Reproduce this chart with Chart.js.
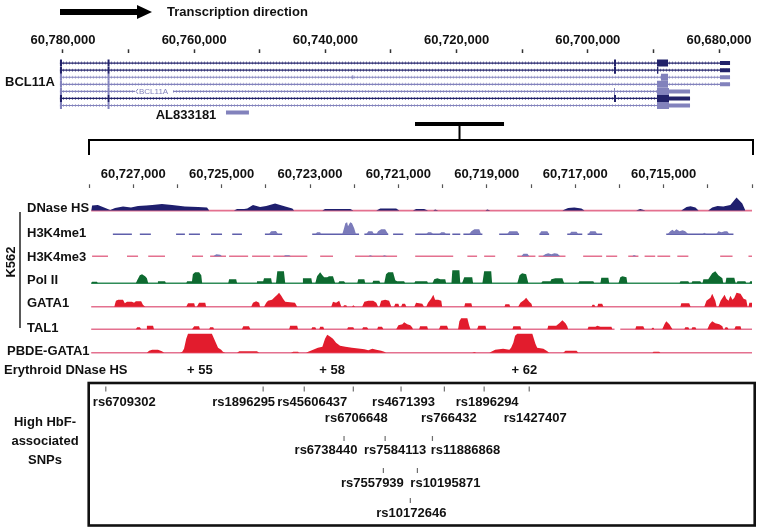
<!DOCTYPE html>
<html>
<head>
<meta charset="utf-8">
<script src="https://cdn.jsdelivr.net/npm/chart.js@4.4.1/dist/chart.umd.min.js"></script>
<style>
  html, body { margin:0; padding:0; background:#ffffff; }
  #fig { position:relative; width:760px; height:531px; overflow:hidden; background:#ffffff; }
  #geneCanvas { position:absolute; left:0; top:0; }
  #trackCanvas { position:absolute; left:0; top:120px; }
</style>
</head>
<body>
<div id="fig">
  <canvas id="geneCanvas" width="760" height="128"></canvas>
  <canvas id="trackCanvas" width="760" height="411"></canvas>
</div>
<script>
// ======================= DATA =======================
// --- top panel: BCL11A locus (chr2, bp) ---
const locusTicks = [60780000,60770000,60760000,60750000,60740000,60730000,60720000,60710000,60700000,60690000,60680000];
const locusTickLabels = [60780000,60760000,60740000,60720000,60700000,60680000];
const txStart = [60780460,60780460,60780460,60780460,60780460,60780460,60780460];
const txEnd   = [60678320,60678320,60678320,60678320,60684420,60684420,60684420];
const txDark  = [true,true,false,false,false,true,false];
const txExons = [
  [[60780460,60780150,'c'],[60773200,60772900,'c'],[60696010,60695700,'c'],[60689450,60687770,'c'],[60679850,60678320,'u']],
  [[60780460,60780150,'c'],[60773200,60772900,'c'],[60696010,60695700,'c'],[60689450,60689250,'c'],[60679850,60678320,'u']],
  [[60780460,60780150,'c'],[60773200,60772900,'c'],[60735900,60735750,'u'],[60688840,60687770,'c'],[60679850,60678320,'u']],
  [[60780460,60780150,'c'],[60773200,60772900,'c'],[60689450,60687770,'c'],[60679850,60678320,'u']],
  [[60780460,60780150,'c'],[60773200,60772900,'c'],[60696010,60695850,'c'],[60689450,60687620,'c'],[60687620,60684420,'u']],
  [[60780460,60780150,'c'],[60773200,60772900,'c'],[60696010,60695700,'c'],[60689450,60687620,'c'],[60687620,60684420,'u']],
  [[60780460,60780150,'c'],[60773200,60772900,'c'],[60689450,60687620,'c'],[60687620,60684420,'u']]
];
const txLabelRow = 4;
const txLabelGap = [60769020, 60763230];
const al833181 = [60755150, 60751650];
const zoomedRegion = [60726340, 60712770];

// --- zoomed region ---
const regionTicks = [60728000,60727000,60726000,60725000,60724000,60723000,60722000,60721000,60720000,60719000,60718000,60717000,60716000,60715000,60714000,60713000];
const regionTickLabels = [60727000,60725000,60723000,60721000,60719000,60717000,60715000];
const trackNames = ['DNase HS','H3K4me1','H3K4me3','Pol II','GATA1','TAL1','PBDE-GATA1'];

const dnaseHS = [[60727950,0],[60727930,5],[60727800,5.5],[60727660,3],[60727520,0.5],[60727410,2.5],[60727230,4],[60727050,3],[60726890,4.5],[60726710,5],[60726570,5.5],[60726350,6.5],[60726120,5.5],[60725830,4],[60725530,3.5],[60725330,3],[60725280,0],[60724720,0],[60724650,1.5],[60724490,1.5],[60724420,2],[60724290,5.5],[60724130,3.5],[60723990,4.5],[60723790,7],[60723560,4],[60723400,2],[60723360,0],[60722720,0],[60722660,1.5],[60722090,1.5],[60722020,0],[60721500,0],[60721410,2],[60721050,2],[60720980,0],[60720670,0],[60720600,1.5],[60720420,1.5],[60720330,0],[60720210,0],[60720170,1],[60720100,0],[60719030,0],[60718990,1.2],[60718920,0],[60717290,0],[60717160,2.5],[60717020,3],[60716860,2],[60716790,0],[60715620,0],[60715530,1.5],[60715410,0],[60714600,0],[60714480,3.5],[60714390,4.3],[60714280,3],[60714210,0],[60713990,0],[60713900,3],[60713780,4.5],[60713650,4],[60713490,5.5],[60713350,13],[60713220,7],[60713150,0]];

const h3k4me1 = [[60724020,0],[60723930,0],[60723880,3],[60723770,3.3],[60723720,0],[60722880,0],[60722840,2],[60722770,2],[60722750,0],[60722270,0],[60722230,6],[60722200,11],[60722160,12],[60722140,8],[60722090,12],[60722050,11],[60722000,6],[60721960,0],[60721730,0],[60721680,3],[60721590,3],[60721550,0],[60721500,0],[60721460,3],[60721390,5],[60721300,5],[60721230,0],[60720370,0],[60720330,2],[60720260,2],[60720210,0],[60720080,0],[60720030,2],[60719960,2],[60719920,0],[60719400,0],[60719350,3],[60719280,5],[60719170,5],[60719130,0],[60718540,0],[60718490,3],[60718310,3],[60718270,0],[60717810,0],[60717770,3],[60717630,3],[60717590,0],[60717130,0],[60717090,2.5],[60716970,2.5],[60716930,0],[60716700,0],[60716660,3],[60716540,3],[60716500,0],[60714910,0],[60714850,3],[60714800,4.5],[60714760,3],[60714710,5],[60714640,3],[60714570,4],[60714510,3],[60714440,0],[60714120,0],[60714080,1.5],[60714030,0],[60713810,0],[60713760,3],[60713690,2],[60713620,3],[60713560,3],[60713510,0]];
const h3k4me1Cover = [[60727460,60727030],[60726850,60726600],[60726030,60725830],[60725740,60725490],[60725240,60724990],[60724760,60724540],[60724020,60723630],[60722950,60721890],[60721770,60721230],[60721120,60720890],[60720620,60719830],[60719780,60719600],[60719530,60719100],[60718720,60718270],[60717810,60717590],[60717180,60716840],[60716720,60716390],[60714940,60713420]];

const h3k4me3 = [[60725190,0],[60725120,2],[60725030,1.5],[60724990,0],[60723600,0],[60723560,1],[60723470,1],[60723430,0],[60721680,0],[60721640,1],[60721570,0],[60721360,0],[60721320,1],[60721250,0],[60718220,0],[60718170,2.5],[60718080,2.5],[60718040,0],[60717740,0],[60717680,2],[60717610,3],[60717540,2],[60717470,3],[60717400,2.5],[60717340,0],[60715710,0],[60715670,1.2],[60715610,0]];
const h3k4me3Cover = [[60727930,60727570],[60727140,60726890],[60726660,60726280],[60725670,60725420],[60725260,60724900],[60724830,60724400],[60724310,60723900],[60723830,60723060],[60722770,60722480],[60721980,60721030],[60720620,60719760],[60719440,60719220],[60719060,60718810],[60718310,60717900],[60717830,60717220],[60716820,60716390],[60716300,60716050],[60715800,60715570],[60715430,60715190],[60715140,60714850],[60714690,60714440],[60713720,60713440],[60713080,60713000]];

const polII = [[60727950,0],[60727930,1.5],[60727820,1.5],[60727800,0],[60726940,0],[60726910,3],[60726850,8],[60726800,9],[60726730,7],[60726690,5],[60726660,0],[60726460,0],[60726440,2],[60726280,2],[60726260,0],[60725800,0],[60725780,2],[60725670,2],[60725650,9],[60725600,11],[60725510,11],[60725460,8],[60725440,0],[60724850,0],[60724830,4],[60724670,4],[60724650,0],[60724220,0],[60724200,2],[60724060,2],[60724040,5],[60723880,5],[60723860,0],[60723770,0],[60723740,12],[60723590,12],[60723560,0],[60723180,0],[60723160,5],[60722970,5],[60722950,0],[60722880,0],[60722840,7],[60722770,11],[60722720,8],[60722680,6],[60722610,6],[60722570,7],[60722480,7],[60722430,0],[60722360,0],[60722340,2],[60722230,2],[60722200,0],[60721930,0],[60721910,4],[60721770,4],[60721750,0],[60721590,0],[60721570,2.5],[60721430,2.5],[60721410,0],[60721320,0],[60721280,9],[60721230,11],[60721120,11],[60721070,3],[60721030,2],[60720870,2],[60720850,0],[60720640,0],[60720620,2],[60720350,2],[60720330,0],[60720230,0],[60720190,4],[60720120,5],[60720050,4],[60719940,4],[60719920,0],[60719800,0],[60719780,13],[60719620,13],[60719600,0],[60719560,0],[60719510,6],[60719330,6],[60719310,0],[60719100,0],[60719060,12],[60718900,12],[60718880,0],[60718310,0],[60718260,8],[60718200,10],[60718110,9],[60718060,0],[60717770,0],[60717740,2],[60717560,2],[60717540,4],[60717450,5],[60717290,5],[60717250,0],[60716930,0],[60716910,2],[60716590,2],[60716570,0],[60716430,0],[60716410,5.5],[60716250,5.5],[60716230,0],[60716020,0],[60715980,6],[60715930,7],[60715840,6],[60715820,0],[60714640,0],[60714620,2],[60714440,2],[60714420,0],[60714370,0],[60714350,2],[60714170,2],[60714140,0],[60714120,0],[60714100,4],[60713990,4],[60713900,10],[60713830,12],[60713760,8],[60713670,5],[60713650,0],[60713600,0],[60713580,5.5],[60713400,5.5],[60713370,0],[60713350,0],[60713330,2],[60713150,2],[60713130,0],[60713060,0],[60713040,2],[60713000,2]];

const gata1 = [[60727430,0],[60727390,6],[60727340,7],[60727230,7],[60727190,3.5],[60727140,5],[60727030,5],[60726980,4],[60726940,5.5],[60726820,5.5],[60726780,2],[60726730,0],[60725800,0],[60725760,3.5],[60725620,3.5],[60725600,0],[60725560,0],[60725510,4],[60725370,4],[60725350,0],[60724330,0],[60724290,4],[60724220,5.5],[60724150,4],[60724130,0],[60724040,0],[60723990,4],[60723950,6],[60723860,7],[60723790,10],[60723740,12],[60723700,14],[60723650,11],[60723610,8],[60723560,5],[60723450,4.5],[60723340,4],[60723290,0],[60722520,0],[60722480,5],[60722410,4],[60722340,6],[60722290,0],[60722250,0],[60722230,1.5],[60722180,1.5],[60722160,0],[60722050,0],[60722020,1.5],[60721980,0],[60721820,0],[60721770,5],[60721680,6],[60721570,6],[60721500,4],[60721460,0],[60721430,0],[60721390,6],[60721300,7],[60721210,6],[60721160,0],[60721100,0],[60721070,3],[60721000,3],[60720980,0],[60720940,0],[60720910,3],[60720850,3],[60720820,0],[60720640,0],[60720600,4],[60720460,3],[60720420,0],[60720370,0],[60720330,4],[60720260,8],[60720210,12],[60720170,7],[60720100,7],[60720030,6],[60720010,0],[60719510,0],[60719490,3.5],[60719350,3.5],[60719330,0],[60718600,0],[60718580,2.5],[60718490,2.5],[60718470,0],[60718290,0],[60718240,4],[60718150,7],[60718110,9],[60718040,5],[60717990,3],[60717970,0],[60716630,0],[60716610,2],[60716570,2],[60716540,0],[60716500,0],[60716480,3],[60716390,3],[60716360,0],[60714620,0],[60714600,3.5],[60714420,3.5],[60714390,0],[60714080,0],[60714030,6],[60713940,9],[60713900,13],[60713830,6],[60713800,0],[60713760,0],[60713710,6],[60713620,12],[60713580,8],[60713530,6],[60713490,11],[60713440,7],[60713400,9],[60713350,14],[60713260,13],[60713190,8],[60713130,7],[60713100,0],[60713080,0],[60713060,4],[60713000,4]];

const tal1 = [[60726940,0],[60726910,2],[60726850,2],[60726820,0],[60726710,0],[60726690,3.5],[60726550,3.5],[60726530,0],[60725670,0],[60725620,3],[60725510,3],[60725490,0],[60725280,0],[60725260,2],[60725190,2],[60725170,0],[60724540,0],[60724510,3],[60724380,3],[60724350,0],[60723470,0],[60723450,3.5],[60723290,3.5],[60723270,0],[60722970,0],[60722950,2],[60722880,2],[60722860,0],[60722790,0],[60722770,2.5],[60722700,2.5],[60722680,0],[60722160,0],[60722140,2],[60722020,2],[60722000,0],[60721820,0],[60721800,2],[60721710,2],[60721680,0],[60721480,0],[60721460,2.5],[60721370,2.5],[60721340,0],[60721050,0],[60721000,4],[60720910,5],[60720870,7],[60720800,5],[60720730,4],[60720690,2],[60720670,0],[60720530,0],[60720510,3],[60720350,3],[60720330,0],[60720080,0],[60720050,3.5],[60719900,3.5],[60719870,0],[60719650,0],[60719620,8],[60719580,11],[60719440,11],[60719400,4],[60719370,0],[60719220,0],[60719190,3.5],[60719030,3.5],[60719010,0],[60718420,0],[60718400,3],[60718240,3],[60718220,0],[60717630,0],[60717610,3.5],[60717430,3.5],[60717360,6],[60717290,9],[60717220,6],[60717180,3],[60717160,0],[60716720,0],[60716700,2.5],[60716540,2.5],[60716500,3.5],[60716430,2.5],[60716180,2.5],[60716160,0],[60715640,0],[60715620,3],[60715460,3],[60715430,0],[60715280,0],[60715250,1.5],[60715230,1.5],[60715210,0],[60715030,0],[60714980,5],[60714940,8],[60714870,5],[60714800,0],[60714530,0],[60714510,2],[60714440,2],[60714420,0],[60714370,0],[60714350,2],[60714280,2],[60714260,0],[60714010,0],[60713960,5],[60713900,8],[60713830,6],[60713740,5],[60713670,3],[60713650,0],[60713620,0],[60713600,2],[60713560,2],[60713530,0],[60713400,0],[60713370,3],[60713260,3],[60713240,0]];
const tal1Cover = [[60727950,60716110],[60715980,60713000]];

const pbdeGata1 = [[60726690,0],[60726640,2],[60726570,3],[60726440,3],[60726350,1.5],[60726300,0],[60725940,0],[60725890,1],[60725850,4],[60725800,14],[60725760,19],[60725220,19],[60725170,14],[60725120,9],[60725080,5],[60725010,3],[60724970,1],[60724920,0],[60724650,0],[60724600,1.5],[60724200,1.5],[60724150,0],[60723430,0],[60723380,1],[60723270,1],[60723250,0],[60723090,0],[60723040,1],[60722930,3],[60722820,5],[60722720,6],[60722660,14],[60722610,18],[60722540,16],[60722480,14],[60722410,10],[60722320,7],[60722200,6],[60722050,5],[60721860,4],[60721770,3.5],[60721680,2.5],[60721590,4],[60721500,3],[60721390,2],[60721320,1],[60721280,0],[60719330,0],[60719280,0.7],[60719240,0],[60718940,0],[60718900,1],[60718810,3],[60718630,4],[60718490,3],[60718450,5],[60718400,10],[60718360,17],[60718310,19],[60717970,19],[60717900,9],[60717860,5],[60717720,4],[60717630,1.5],[60717590,0],[60717270,0],[60717220,2],[60716970,2],[60716930,0],[60715250,0],[60715230,1],[60715100,1],[60715070,0]];

const fullCover = [[60727950,60713000]];

const hsLabels = ['+ 55','+ 58','+ 62'];
const hsPos    = [60725490, 60722500, 60718150];

const snpNames = ['rs6709302','rs1896295','rs45606437','rs4671393','rs1896294','rs6706648','rs766432','rs1427407','rs6738440','rs7584113','rs11886868','rs7557939','rs10195871','rs10172646'];
const snpPos   = [60727620,60724060,60723130,60720940,60719060,60722020,60719960,60718040,60722230,60721300,60720230,60721340,60720570,60720730];
const snpTier  = [0,0,0,0,0,1,1,1,2,2,2,3,3,4];

// ======================= LAYOUT / STYLE =======================
const FONT = "'Liberation Sans', Arial, Helvetica, sans-serif";
Chart.defaults.font.family = FONT;
Chart.defaults.font.size = 13;
Chart.defaults.font.weight = 'bold';
Chart.defaults.color = '#111111';

const COL_DARK = '#22226a', COL_LIGHT = '#8282bc';
const TEX_DARK = 'rgba(34,34,106,0.55)', TEX_LIGHT = 'rgba(130,130,188,0.55)';
const geneRowY0 = 63.3, geneRowStep = 7.22, alRow = 7;
const TRACK_CANVAS_TOP = 120;
const trackBaseY = [210.6, 234.3, 256.3, 283.3, 306.7, 329.3, 352.7];
const trackLabelY = [208, 233, 257, 280, 303, 328, 351];
const trackLabelX = [27, 27, 27, 27, 27, 27, 7];
const PINK = '#e4718f', RED = '#e21c2d';
const trackStyle = [
  {data: dnaseHS,  cover: fullCover,    fill: '#1f1f6e', line: PINK},
  {data: h3k4me1,  cover: h3k4me1Cover, fill: '#7b7bba', line: '#5f5fab'},
  {data: h3k4me3,  cover: h3k4me3Cover, fill: '#7b7bba', line: PINK},
  {data: polII,    cover: fullCover,    fill: '#0e6a30', line: '#2f8c58'},
  {data: gata1,    cover: fullCover,    fill: RED,       line: PINK},
  {data: tal1,     cover: tal1Cover,    fill: RED,       line: PINK},
  {data: pbdeGata1,cover: fullCover,    fill: RED,       line: PINK}
];
const snpLabelDx = [18.5,-19.5,8,2.5,3,3,4.5,6,-18,10,33,-11,28,1];
const tierLabelY = [402, 418, 450, 483, 513];
const tierTickY  = [389, 389, 438.5, 470.5, 500.5];

const fmt = v => Math.round(v).toLocaleString('en-US');

// ======================= TOP GENE CHART =======================
const geneDatasets = [];
for (let r = 0; r < txStart.length; r++) {
  const col = txDark[r] ? COL_DARK : COL_LIGHT;
  let pts;
  if (r === txLabelRow) {
    pts = [{x: txStart[r], y: r}, {x: txLabelGap[0], y: r}, {x: txLabelGap[0], y: null}, {x: txLabelGap[1], y: r}, {x: txEnd[r], y: r}];
  } else {
    pts = [{x: txStart[r], y: r}, {x: txEnd[r], y: r}];
  }
  geneDatasets.push({data: pts, borderColor: col, borderWidth: 1.2, pointRadius: 0, order: 3});
  geneDatasets.push({data: pts, borderColor: txDark[r] ? TEX_DARK : TEX_LIGHT, borderWidth: 3, borderDash: [1, 2],
                     pointRadius: 0, order: 3});
  ['c', 'u'].forEach(kind => {
    const d = [];
    txExons[r].filter(e => e[2] === kind).forEach(e => { d.push({x: e[0], y: r}, {x: e[1], y: r}, {x: e[1], y: null}); });
    geneDatasets.push({data: d, borderColor: col, borderWidth: kind === 'c' ? 7 : 4, borderCapStyle: 'butt', pointRadius: 0, order: 2});
  });
}
geneDatasets.push({data: [{x: al833181[0], y: alRow}, {x: al833181[1], y: alRow}], borderColor: COL_LIGHT, borderWidth: 4, borderCapStyle: 'butt', pointRadius: 0, order: 1});

const genePlugin = {
  id: 'geneDecor',
  afterDraw(chart) {
    const ctx = chart.ctx, ys = chart.scales.y, xs = chart.scales.x;
    ctx.save();
    ctx.fillStyle = '#000';
    ctx.fillRect(60, 9, 79, 6);
    ctx.beginPath(); ctx.moveTo(137, 5); ctx.lineTo(152, 12); ctx.lineTo(137, 19); ctx.closePath(); ctx.fill();
    ctx.font = 'bold 13px ' + FONT; ctx.textBaseline = 'middle'; ctx.textAlign = 'left';
    ctx.fillStyle = '#111';
    ctx.fillText('Transcription direction', 167, 12);
    ctx.fillText('BCL11A', 5, 82);
    ctx.textAlign = 'center';
    ctx.fillText('AL833181', 186, ys.getPixelForValue(alRow) + 3);
    const yl = ys.getPixelForValue(txLabelRow);
    const xg = xs.getPixelForValue(txLabelGap[0]);
    ctx.strokeStyle = COL_LIGHT; ctx.lineWidth = 1;
    ctx.beginPath(); ctx.moveTo(xg + 3, yl - 2.5); ctx.lineTo(xg + 1, yl); ctx.lineTo(xg + 3, yl + 2.5); ctx.stroke();
    ctx.font = '8px ' + FONT; ctx.textAlign = 'left'; ctx.fillStyle = COL_LIGHT;
    ctx.fillText('BCL11A', xg + 4, yl + 0.5);
    ctx.restore();
  }
};

const geneChart = new Chart(document.getElementById('geneCanvas'), {
  type: 'line',
  data: {datasets: geneDatasets},
  options: {
    responsive: false, animation: false, events: [],
    layout: {padding: {left: 56.4, right: 21.3, top: 30.7, bottom: 2}},
    plugins: {legend: {display: false}, tooltip: {enabled: false}},
    elements: {line: {tension: 0}},
    scales: {
      x: {
        type: 'linear', position: 'top', reverse: true, min: 60677000, max: 60781000,
        afterBuildTicks: s => { s.ticks = locusTicks.map(v => ({value: v})); },
        ticks: {autoSkip: false, maxRotation: 0, padding: 1.5, color: '#111',
                callback: v => (locusTickLabels.includes(v) ? fmt(v) : '')},
        grid: {drawOnChartArea: false, drawTicks: true, tickLength: 4, tickColor: '#333', tickWidth: 1.5},
        border: {display: false}
      },
      y: {type: 'linear', display: false, reverse: true, min: -1.43, max: 7.6}
    }
  },
  plugins: [genePlugin]
});
(function fitGene() {
  const a = geneChart.chartArea;
  geneChart.options.scales.y.min = (a.top - geneRowY0) / geneRowStep;
  geneChart.options.scales.y.max = (a.bottom - geneRowY0) / geneRowStep;
  geneChart.update('none');
})();

// ======================= ZOOMED TRACK CHART =======================
const trackDatasets = [];
const trackScales = {};
trackStyle.forEach((t, i) => {
  const axis = 't' + i;
  trackScales[axis] = {type: 'linear', display: false, min: -10, max: 10};
  const base = [];
  t.cover.forEach(s => { base.push({x: s[0], y: 0}, {x: s[1], y: 0}, {x: s[1], y: null}); });
  trackDatasets.push({data: base, yAxisID: axis, borderColor: t.line, borderWidth: 1.6, pointRadius: 0, fill: false, order: 5});
  trackDatasets.push({data: t.data.map(p => ({x: p[0], y: p[1]})), yAxisID: axis, borderWidth: 0, borderColor: t.fill,
                      backgroundColor: t.fill, pointRadius: 0, fill: 'origin', order: 4});
});
trackDatasets.push({
  type: 'scatter', data: snpPos.map((p, i) => ({x: p, y: tierTickY[snpTier[i]]})), yAxisID: 'yPage',
  pointStyle: 'line', rotation: 90, radius: 2.6, borderColor: '#6e6e6e', borderWidth: 1.2, backgroundColor: '#6e6e6e', order: 1
});

const trackPlugin = {
  id: 'trackDecor',
  afterDraw(chart) {
    const ctx = chart.ctx, xs = chart.scales.x, off = TRACK_CANVAS_TOP;
    const gx = geneChart.scales.x;
    ctx.save();
    const bL = gx.getPixelForValue(zoomedRegion[0]), bR = gx.getPixelForValue(zoomedRegion[1]);
    ctx.fillStyle = '#000';
    ctx.fillRect(bL, 122 - off, bR - bL, 4);
    const mid = (bL + bR) / 2;
    ctx.strokeStyle = '#000'; ctx.lineWidth = 2;
    ctx.beginPath();
    ctx.moveTo(mid, 126 - off); ctx.lineTo(mid, 140 - off);
    ctx.moveTo(xs.left, 155 - off); ctx.lineTo(xs.left, 140 - off); ctx.lineTo(xs.right + 1, 140 - off); ctx.lineTo(xs.right + 1, 155 - off);
    ctx.stroke();
    ctx.font = 'bold 13px ' + FONT; ctx.fillStyle = '#111'; ctx.textBaseline = 'middle'; ctx.textAlign = 'left';
    trackNames.forEach((n, i) => ctx.fillText(n, trackLabelX[i], trackLabelY[i] - off));
    ctx.lineWidth = 1.5; ctx.strokeStyle = '#222';
    ctx.beginPath(); ctx.moveTo(20, 212 - off); ctx.lineTo(20, 328 - off); ctx.stroke();
    ctx.save(); ctx.translate(11, 262 - off); ctx.rotate(-Math.PI / 2); ctx.textAlign = 'center';
    ctx.fillText('K562', 0, 0); ctx.restore();
    ctx.textAlign = 'left';
    ctx.fillText('Erythroid DNase HS', 4, 370 - off);
    ctx.textAlign = 'center';
    hsLabels.forEach((l, i) => ctx.fillText(l, xs.getPixelForValue(hsPos[i]), 370 - off));
    ctx.lineWidth = 2.6; ctx.strokeStyle = '#111';
    ctx.strokeRect(xs.left - 0.3, 383 - off, xs.right + 3 - xs.left, 142.5);
    ctx.fillText('High HbF-', 45, 422 - off);
    ctx.fillText('associated', 45, 441 - off);
    ctx.fillText('SNPs', 45, 460 - off);
    snpNames.forEach((n, i) => {
      ctx.fillText(n, xs.getPixelForValue(snpPos[i]) + snpLabelDx[i], tierLabelY[snpTier[i]] - off);
    });
    ctx.restore();
  }
};

const trackChart = new Chart(document.getElementById('trackCanvas'), {
  type: 'line',
  data: {datasets: trackDatasets},
  options: {
    responsive: false, animation: false, events: [],
    layout: {padding: {left: 89, right: 8, top: 44.7, bottom: 3}},
    plugins: {legend: {display: false}, tooltip: {enabled: false}},
    elements: {line: {tension: 0}},
    scales: Object.assign({
      x: {
        type: 'linear', position: 'top', reverse: true, min: 60713000, max: 60728000,
        afterBuildTicks: s => { s.ticks = regionTicks.map(v => ({value: v})); },
        ticks: {autoSkip: false, maxRotation: 0, padding: 2, color: '#111',
                callback: v => (regionTickLabels.includes(v) ? fmt(v) : '')},
        grid: {drawOnChartArea: false, drawTicks: true, tickLength: 4, tickColor: '#555', tickWidth: 1.2},
        border: {display: false}
      },
      yPage: {type: 'linear', display: false, reverse: true, min: 188, max: 528}
    }, trackScales)
  },
  plugins: [trackPlugin]
});
(function fitTracks() {
  const a = trackChart.chartArea;
  const top = a.top + TRACK_CANVAS_TOP, bottom = a.bottom + TRACK_CANVAS_TOP;
  trackBaseY.forEach((b, i) => {
    trackChart.options.scales['t' + i].min = -(bottom - b);
    trackChart.options.scales['t' + i].max = (b - top);
  });
  trackChart.options.scales.yPage.min = top;
  trackChart.options.scales.yPage.max = bottom;
  trackChart.update('none');
})();
</script>
</body>
</html>
